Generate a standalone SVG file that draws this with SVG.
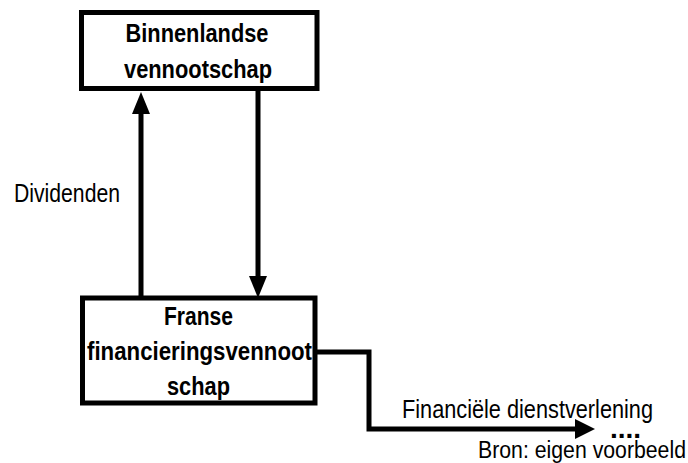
<svg xmlns="http://www.w3.org/2000/svg" width="688" height="463" viewBox="0 0 688 463">
  <style>
    .box { fill: #ffffff; stroke: #000000; stroke-width: 5; }
    .title { font-family: "Liberation Sans", Arial, sans-serif; font-weight: bold; font-size: 26px; fill: #000000; text-anchor: middle; }
    .label { font-family: "Liberation Sans", Arial, sans-serif; font-size: 26px; fill: #000000; }
    .small { font-family: "Liberation Sans", Arial, sans-serif; font-size: 23px; fill: #000000; }
    .dots { font-family: "Liberation Sans", Arial, sans-serif; font-weight: bold; font-size: 28px; fill: #000000; }
    .flow { fill: none; stroke: #000000; stroke-width: 5; stroke-linejoin: miter; }
  </style>
  <defs>
    <marker id="head" viewBox="0 0 22 18" refX="0" refY="9" markerWidth="22" markerHeight="18" markerUnits="userSpaceOnUse" orient="auto">
      <path d="M0,0 L22,9 L0,18 Z" fill="#000000"/>
    </marker>
    <marker id="head-wide" viewBox="0 0 20 20" refX="0" refY="10" markerWidth="20" markerHeight="20" markerUnits="userSpaceOnUse" orient="auto">
      <path d="M0,0 L20,10 L0,20 Z" fill="#000000"/>
    </marker>
  </defs>
  <rect width="688" height="463" fill="#ffffff"/>

  <g id="connectors">
    <!-- dividends: lower company up to the domestic company -->
    <line class="flow" x1="141" y1="298" x2="141" y2="114" marker-end="url(#head)"/>
    <!-- funding: domestic company down to the lower company -->
    <line class="flow" x1="258" y1="88" x2="258" y2="276" marker-end="url(#head)"/>
    <!-- financial services outflow -->
    <polyline class="flow" points="315,352 369,352 369,429 575,429" marker-end="url(#head-wide)"/>
  </g>

  <g id="binnenlandse-vennootschap">
    <rect class="box" x="81.5" y="12.5" width="235.5" height="76"/>
    <text class="title" x="197" y="42" textLength="143" lengthAdjust="spacingAndGlyphs">Binnenlandse</text>
    <text class="title" x="198" y="78" textLength="148" lengthAdjust="spacingAndGlyphs">vennootschap</text>
  </g>

  <g id="franse-financieringsvennootschap">
    <rect class="box" x="82.5" y="298" width="232.5" height="105"/>
    <text class="title" x="198.5" y="325" textLength="69" lengthAdjust="spacingAndGlyphs">Franse</text>
    <text class="title" x="199.5" y="360" textLength="225" lengthAdjust="spacingAndGlyphs">financieringsvennoot</text>
    <text class="title" x="198.5" y="395" textLength="63" lengthAdjust="spacingAndGlyphs">schap</text>
  </g>

  <g id="labels">
    <text class="label" x="14" y="202" textLength="106" lengthAdjust="spacingAndGlyphs">Dividenden</text>
    <text class="label" x="402" y="418" textLength="251" lengthAdjust="spacingAndGlyphs">Financiële dienstverlening</text>
    <text class="dots" x="610" y="438">....</text>
    <text class="small" x="478" y="458" textLength="208" lengthAdjust="spacingAndGlyphs">Bron: eigen voorbeeld</text>
  </g>
</svg>
